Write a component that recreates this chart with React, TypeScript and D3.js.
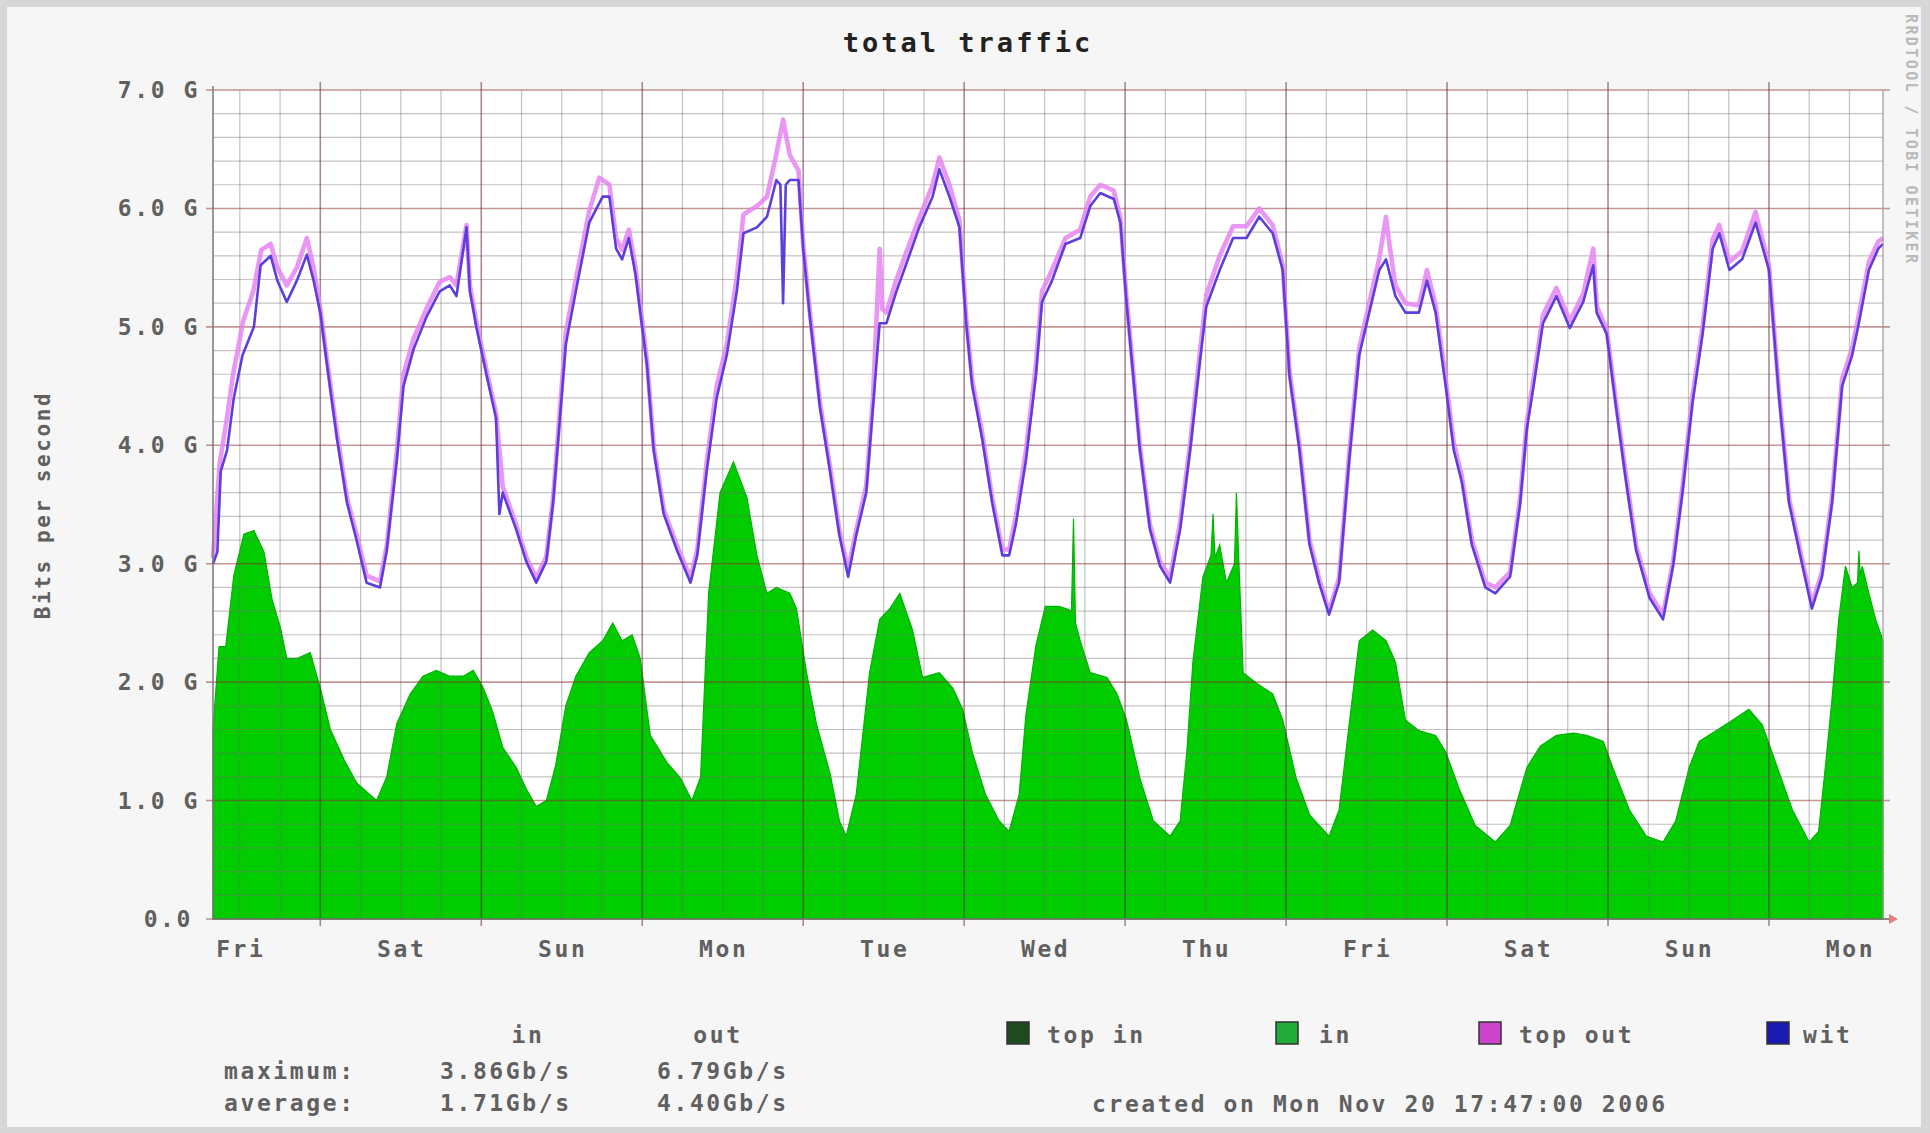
import React, { useEffect, useRef } from "react";
import * as d3 from "d3";

const WIDTH = 1930;
const HEIGHT = 1133;

// hours since Fri Nov 10 2006 08:00 -> Gb/s
const inTraffic: [number, number][] = [
  [0, 1.6], [0.9, 2.3], [1.9, 2.3], [3.1, 2.9], [4.6, 3.25], [6.1, 3.28], [7.6, 3.1], [8.8, 2.7],
  [10.1, 2.45], [11.0, 2.2], [12.5, 2.2], [14.5, 2.25], [16.0, 1.95], [17.5, 1.6], [19.5, 1.35],
  [21.4, 1.15], [23.4, 1.05], [24.4, 1.0], [25.9, 1.2], [27.4, 1.65], [29.4, 1.9], [31.3, 2.05],
  [33.3, 2.1], [35.3, 2.05], [37.3, 2.05], [38.8, 2.1], [40.3, 1.95], [41.7, 1.75], [43.2, 1.45],
  [45.2, 1.28], [46.7, 1.1], [48.2, 0.95], [49.7, 1.0], [51.1, 1.3], [52.6, 1.8], [54.1, 2.05],
  [56.1, 2.25], [58.1, 2.35], [59.6, 2.5], [61.0, 2.35], [62.5, 2.4], [63.7, 2.2], [65.2, 1.55],
  [67.7, 1.32], [69.7, 1.19], [71.4, 1.0], [72.7, 1.2], [73.9, 2.75], [75.6, 3.6], [77.6, 3.86],
  [79.6, 3.56], [81.1, 3.07], [82.6, 2.75], [84.0, 2.8], [86.0, 2.75], [87.0, 2.62], [88.5, 2.08],
  [90.0, 1.64], [92.0, 1.23], [93.4, 0.83], [94.4, 0.7], [95.9, 1.05], [97.9, 2.08], [99.4, 2.53],
  [100.9, 2.62], [102.4, 2.75], [104.3, 2.44], [105.8, 2.04], [108.3, 2.08], [110.3, 1.95],
  [111.8, 1.77], [113.2, 1.41], [115.2, 1.05], [117.2, 0.83], [118.7, 0.74], [120.2, 1.05],
  [121.2, 1.72], [122.7, 2.31], [124.1, 2.64], [126.1, 2.64], [127.3, 2.62], [128.0, 2.6],
  [128.3, 3.38], [128.6, 2.5], [129.3, 2.35], [130.8, 2.08], [133.3, 2.04], [134.8, 1.9],
  [136.2, 1.68], [138.2, 1.19], [140.2, 0.83], [142.7, 0.7], [144.2, 0.83], [145.2, 1.41],
  [146.1, 2.17], [147.6, 2.89], [148.8, 3.07], [149.1, 3.42], [149.4, 3.05], [150.1, 3.16],
  [151.1, 2.84], [152.3, 3.0], [152.6, 3.6], [152.9, 3.1], [153.6, 2.08], [155.6, 1.99],
  [158.0, 1.9], [159.5, 1.68], [161.5, 1.19], [163.5, 0.88], [166.4, 0.7], [167.9, 0.92],
  [169.4, 1.64], [170.9, 2.35], [172.9, 2.44], [174.9, 2.35], [176.3, 2.17], [177.8, 1.68],
  [179.8, 1.59], [182.3, 1.55], [183.8, 1.41], [185.8, 1.1], [188.2, 0.79], [191.2, 0.65],
  [193.4, 0.79], [195.9, 1.28], [197.9, 1.46], [200.3, 1.55], [202.8, 1.57], [204.8, 1.55],
  [207.3, 1.5], [208.7, 1.28], [211.2, 0.92], [213.7, 0.7], [216.2, 0.65], [218.1, 0.83],
  [220.1, 1.28], [221.6, 1.5], [224.1, 1.59], [226.6, 1.68], [229.0, 1.77], [231.0, 1.64],
  [233.0, 1.32], [235.5, 0.92], [238.0, 0.65], [239.4, 0.74], [240.4, 1.28], [241.4, 1.86],
  [242.4, 2.53], [243.4, 2.98], [244.4, 2.8], [245.2, 2.84], [245.4, 3.11], [245.6, 2.9],
  [245.9, 2.98], [246.9, 2.75], [247.9, 2.53], [249, 2.35],
];

const topOut: [number, number][] = [
  [0, 3.05], [1.0, 3.85], [2.0, 4.2], [3.0, 4.6], [4.5, 5.05], [6.0, 5.3], [7.2, 5.65], [8.6, 5.7],
  [9.6, 5.5], [11.0, 5.35], [12.5, 5.5], [14.0, 5.75], [15.0, 5.5], [16.0, 5.15], [17.0, 4.72],
  [18.5, 4.1], [20.0, 3.55], [21.4, 3.25], [22.9, 2.9], [24.9, 2.85], [25.9, 3.15], [27.4, 3.95],
  [28.4, 4.6], [29.9, 4.9], [31.8, 5.15], [33.8, 5.38], [35.3, 5.42], [36.3, 5.35], [37.8, 5.86],
  [38.3, 5.35], [39.3, 5.03], [40.8, 4.63], [42.2, 4.27], [43.2, 3.65], [45.2, 3.33], [46.7, 3.06],
  [48.2, 2.88], [49.7, 3.06], [50.7, 3.55], [51.6, 4.2], [52.6, 4.95], [54.1, 5.4], [56.1, 5.98],
  [57.6, 6.26], [59.1, 6.2], [60.1, 5.75], [61.0, 5.65], [62.0, 5.82], [63.0, 5.5], [64.7, 4.72],
  [65.7, 4.0], [67.2, 3.46], [69.2, 3.15], [71.2, 2.88], [72.2, 3.12], [73.6, 3.85], [75.1, 4.5],
  [76.6, 4.85], [78.1, 5.42], [79.1, 5.95], [81.1, 6.02], [82.6, 6.1], [84.0, 6.46], [85.0, 6.75],
  [86.0, 6.45], [87.3, 6.32], [88.0, 5.7], [89.0, 5.12], [90.5, 4.36], [92.0, 3.82], [93.4, 3.28],
  [94.7, 2.95], [95.9, 3.28], [97.4, 3.66], [98.4, 4.4], [99.4, 5.66], [99.8, 5.15], [100.4, 5.12],
  [101.9, 5.4], [103.3, 5.62], [105.3, 5.92], [107.3, 6.2], [108.3, 6.43], [109.8, 6.2],
  [111.3, 5.9], [112.3, 5.08], [113.2, 4.55], [114.7, 4.1], [116.2, 3.55], [117.7, 3.12],
  [118.7, 3.12], [119.7, 3.4], [121.2, 3.95], [122.7, 4.68], [123.6, 5.3], [125.1, 5.48],
  [127.1, 5.75], [129.3, 5.82], [130.8, 6.1], [132.3, 6.2], [134.3, 6.15], [135.3, 5.92],
  [136.2, 5.25], [137.2, 4.63], [138.2, 4.0], [139.7, 3.33], [141.2, 3.02], [142.7, 2.88],
  [144.2, 3.35], [145.7, 4.02], [147.1, 4.76], [148.1, 5.27], [150.1, 5.6], [152.1, 5.85],
  [154.1, 5.85], [156.0, 6.0], [158.0, 5.86], [159.5, 5.52], [160.5, 4.63], [162.0, 4.0],
  [163.5, 3.2], [164.9, 2.88], [166.4, 2.6], [167.9, 2.88], [169.4, 3.92], [170.9, 4.82],
  [172.4, 5.2], [173.9, 5.58], [174.9, 5.93], [175.4, 5.7], [176.3, 5.35], [177.8, 5.2],
  [179.8, 5.18], [181.0, 5.48], [182.3, 5.18], [183.8, 4.56], [185.0, 4.02], [186.2, 3.74],
  [187.7, 3.2], [189.7, 2.84], [191.2, 2.8], [193.4, 2.93], [194.9, 3.56], [195.9, 4.2],
  [196.9, 4.56], [198.3, 5.1], [200.3, 5.33], [202.3, 5.05], [204.3, 5.28], [205.8, 5.66],
  [206.3, 5.18], [207.8, 4.98], [209.2, 4.36], [210.7, 3.74], [212.2, 3.15], [214.2, 2.75],
  [216.2, 2.57], [217.7, 3.02], [219.1, 3.65], [220.6, 4.42], [222.1, 5.0], [223.6, 5.74],
  [224.6, 5.86], [226.1, 5.55], [228.0, 5.64], [230.0, 5.97], [232.0, 5.52], [233.5, 4.45],
  [235.0, 3.55], [237.0, 3.02], [238.4, 2.66], [239.9, 2.93], [241.4, 3.56], [242.9, 4.56],
  [244.4, 4.82], [245.4, 5.1], [246.9, 5.55], [248.3, 5.72], [249, 5.75],
];

const witOut: [number, number][] = [
  [0, 3.0], [0.65, 3.1], [1.15, 3.78], [2.1, 3.96], [3.1, 4.4], [4.4, 4.76], [6.1, 5.0], [7.1, 5.52],
  [8.6, 5.6], [9.6, 5.39], [11.0, 5.21], [12.5, 5.39], [14.0, 5.61], [15.0, 5.39], [16.0, 5.12],
  [17.0, 4.68], [18.5, 4.05], [20.0, 3.51], [21.4, 3.2], [22.9, 2.84], [24.9, 2.8], [25.9, 3.11],
  [27.4, 3.87], [28.4, 4.5], [29.9, 4.81], [31.8, 5.08], [33.8, 5.3], [35.3, 5.35], [36.3, 5.26],
  [37.8, 5.84], [38.3, 5.3], [39.3, 4.99], [40.8, 4.59], [42.2, 4.23], [42.7, 3.42], [43.2, 3.6],
  [45.2, 3.29], [46.7, 3.02], [48.2, 2.84], [49.7, 3.02], [50.7, 3.51], [51.6, 4.14], [52.6, 4.85],
  [54.1, 5.3], [56.1, 5.88], [58.1, 6.1], [59.1, 6.1], [60.1, 5.66], [61.0, 5.57], [62.0, 5.75],
  [63.0, 5.44], [64.7, 4.68], [65.7, 3.96], [67.2, 3.42], [69.2, 3.11], [71.2, 2.84], [72.2, 3.07],
  [73.6, 3.78], [75.1, 4.4], [76.6, 4.76], [78.1, 5.3], [79.1, 5.79], [81.1, 5.84], [82.6, 5.93],
  [84.0, 6.24], [84.6, 6.2], [85.0, 5.2], [85.4, 6.2], [86.0, 6.24], [87.3, 6.24], [88.0, 5.66],
  [89.0, 5.08], [90.5, 4.32], [92.0, 3.78], [93.4, 3.24], [94.7, 2.89], [95.9, 3.24], [97.4, 3.6],
  [98.4, 4.32], [99.4, 5.03], [100.4, 5.03], [101.9, 5.3], [103.3, 5.52], [105.3, 5.84],
  [107.3, 6.1], [108.3, 6.33], [109.8, 6.1], [111.3, 5.84], [112.3, 5.03], [113.2, 4.5],
  [114.7, 4.05], [116.2, 3.51], [117.7, 3.07], [118.7, 3.07], [119.7, 3.33], [121.2, 3.87],
  [122.7, 4.59], [123.6, 5.21], [125.1, 5.39], [127.1, 5.7], [129.3, 5.75], [130.8, 6.02],
  [132.3, 6.13], [134.3, 6.08], [135.3, 5.88], [136.2, 5.21], [137.2, 4.59], [138.2, 3.96],
  [139.7, 3.29], [141.2, 2.98], [142.7, 2.84], [144.2, 3.29], [145.7, 3.96], [147.1, 4.68],
  [148.1, 5.17], [150.1, 5.48], [152.1, 5.75], [154.1, 5.75], [156.0, 5.93], [158.0, 5.79],
  [159.5, 5.48], [160.5, 4.59], [162.0, 3.96], [163.5, 3.16], [164.9, 2.84], [166.4, 2.57],
  [167.9, 2.84], [169.4, 3.87], [170.9, 4.76], [172.4, 5.12], [173.9, 5.48], [174.9, 5.57],
  [176.3, 5.26], [177.8, 5.12], [179.8, 5.12], [181.0, 5.39], [182.3, 5.12], [183.8, 4.5],
  [185.0, 3.96], [186.2, 3.69], [187.7, 3.16], [189.7, 2.8], [191.2, 2.75], [193.4, 2.89],
  [194.9, 3.51], [195.9, 4.14], [196.9, 4.5], [198.3, 5.03], [200.3, 5.26], [202.3, 4.99],
  [204.3, 5.21], [205.8, 5.52], [206.3, 5.12], [207.8, 4.94], [209.2, 4.32], [210.7, 3.69],
  [212.2, 3.11], [214.2, 2.71], [216.2, 2.53], [217.7, 2.98], [219.1, 3.6], [220.6, 4.36],
  [222.1, 4.94], [223.6, 5.66], [224.6, 5.79], [226.1, 5.48], [228.0, 5.57], [230.0, 5.88],
  [232.0, 5.48], [233.5, 4.41], [235.0, 3.51], [237.0, 2.98], [238.4, 2.62], [239.9, 2.89],
  [241.4, 3.51], [242.9, 4.5], [244.4, 4.76], [245.4, 5.03], [246.9, 5.48], [248.3, 5.66],
  [249, 5.7],
];

const dayLabels = ["Fri", "Sat", "Sun", "Mon", "Tue", "Wed", "Thu", "Fri", "Sat", "Sun", "Mon"];
const yTickLabels = ["0.0", "1.0 G", "2.0 G", "3.0 G", "4.0 G", "5.0 G", "6.0 G", "7.0 G"];
const legendLabels = ["top in", "in", "top out", "wit"];
const statHeader = ["in", "out"];
const statRows = [
  ["maximum:", "3.86Gb/s", "6.79Gb/s"],
  ["average:", "1.71Gb/s", "4.40Gb/s"],
];

const legendColors = ["#1f4a1f", "#1faa3a", "#cc44cc", "#1a1ab0"];
const FONT = "'DejaVu Sans Mono', 'Liberation Mono', monospace";

const TrafficGraph = () => {
  const ref = useRef<SVGSVGElement>(null);

  useEffect(() => {
    const svg = d3.select(ref.current);
    svg.selectAll("*").remove();

    const start = new Date(2006, 10, 10, 8, 0);
    const end = new Date(2006, 10, 20, 17, 0);
    const toDate = (h: number) => new Date(start.getTime() + h * 3600000);

    const left = 213, right = 1883, top = 90, bottom = 919;
    const x = d3.scaleTime().domain([start, end]).range([left, right]);
    const y = d3.scaleLinear().domain([0, 7]).range([bottom, top]);

    // frame
    svg.append("rect").attr("width", WIDTH).attr("height", HEIGHT).attr("fill", "#d7d7d7");
    svg.append("rect").attr("x", 7).attr("y", 7).attr("width", WIDTH - 16).attr("height", HEIGHT - 13).attr("fill", "#f6f6f6");
    svg.append("rect").attr("x", left).attr("y", top).attr("width", right - left).attr("height", bottom - top).attr("fill", "#ffffff");

    // in area
    const area = d3.area<[number, number]>()
      .x((d) => x(toDate(d[0])))
      .y0(y(0))
      .y1((d) => y(d[1]));
    svg.append("path").datum(inTraffic).attr("d", area).attr("fill", "#00cc00")
      .attr("stroke", "#00b400").attr("stroke-width", 1.2);

    // grid on top of the area, like rrdtool
    const grid = svg.append("g");
    const minorX = d3.timeHour.every(6)!.range(start, end).filter((d) => d.getHours() !== 0);
    const majorX = d3.timeDay.range(start, end);
    const minorY = d3.range(1, 35).map((i) => i * 0.2).filter((v) => Math.abs(v - Math.round(v)) > 0.01);
    const majorY = d3.range(0, 8);

    grid.selectAll(".mx").data(minorX).enter().append("line")
      .attr("x1", (d) => x(d)).attr("x2", (d) => x(d)).attr("y1", top).attr("y2", bottom)
      .attr("stroke", "rgba(110,110,110,0.42)").attr("stroke-width", 1.2);
    grid.selectAll(".my").data(minorY).enter().append("line")
      .attr("x1", left).attr("x2", right).attr("y1", (d) => y(d)).attr("y2", (d) => y(d))
      .attr("stroke", "rgba(120,110,110,0.42)").attr("stroke-width", 1.2);
    grid.selectAll(".Mx").data(majorX).enter().append("line")
      .attr("x1", (d) => x(d)).attr("x2", (d) => x(d)).attr("y1", top - 8).attr("y2", bottom + 7)
      .attr("stroke", "rgba(95,45,55,0.55)").attr("stroke-width", 1.6);
    grid.selectAll(".My").data(majorY).enter().append("line")
      .attr("x1", left - 7).attr("x2", right + 7).attr("y1", (d) => y(d)).attr("y2", (d) => y(d))
      .attr("stroke", "rgba(140,45,45,0.5)").attr("stroke-width", 1.6);

    // out lines
    const line = d3.line<[number, number]>()
      .x((d) => x(toDate(d[0])))
      .y((d) => y(d[1]));
    svg.append("path").datum(topOut).attr("d", line).attr("fill", "none")
      .attr("stroke", "#e684f2").attr("stroke-width", 4.6).attr("stroke-opacity", 0.85)
      .attr("stroke-linejoin", "round");
    svg.append("path").datum(witOut).attr("d", line).attr("fill", "none")
      .attr("stroke", "#5c3edc").attr("stroke-width", 2.6).attr("stroke-linejoin", "round");

    // axes
    svg.append("line").attr("x1", left).attr("x2", left).attr("y1", top - 4).attr("y2", bottom)
      .attr("stroke", "#777").attr("stroke-width", 1.5);
    svg.append("line").attr("x1", left).attr("x2", right + 6).attr("y1", bottom).attr("y2", bottom)
      .attr("stroke", "#777").attr("stroke-width", 1.5);
    svg.append("line").attr("x1", right).attr("x2", right).attr("y1", top).attr("y2", bottom)
      .attr("stroke", "#999").attr("stroke-width", 1.2);
    svg.append("path")
      .attr("d", `M${right + 6},${bottom - 5} L${right + 15},${bottom} L${right + 6},${bottom + 5} Z`)
      .attr("fill", "#e08080");

    const textStyle = (sel: any, size = 23) =>
      sel.attr("font-family", FONT).attr("font-size", size).attr("font-weight", "bold")
        .attr("fill", "#606060").attr("letter-spacing", 2.6);

    // y labels
    svg.selectAll(".yl").data(yTickLabels).enter().append("text")
      .call(textStyle)
      .attr("x", (d, i) => (i === 0 ? 193 : 200))
      .attr("y", (d, i) => y(i) + 8)
      .attr("text-anchor", "end")
      .text((d) => d);

    // x labels at noon
    svg.selectAll(".xl").data(dayLabels).enter().append("text")
      .call(textStyle)
      .attr("x", (d, i) => x(d3.timeHour.offset(d3.timeDay.offset(d3.timeDay.floor(start), i), 12)) + 1)
      .attr("y", 957)
      .attr("text-anchor", "middle")
      .text((d) => d);

    // title
    svg.append("text").call(textStyle, 27).attr("fill", "#222").attr("letter-spacing", 3)
      .attr("x", 968).attr("y", 52).attr("text-anchor", "middle").text("total traffic");

    // y title
    svg.append("text").call(textStyle, 21)
      .attr("transform", "translate(50,505) rotate(-90)")
      .attr("text-anchor", "middle").text("Bits per second");

    // watermark
    svg.append("text").attr("font-family", FONT).attr("font-size", 15).attr("fill", "#b9b9b9")
      .attr("letter-spacing", 2.4).attr("font-weight", "bold")
      .attr("transform", "translate(1906,14) rotate(90)").text("RRDTOOL / TOBI OETIKER");

    // stats
    svg.selectAll(".sh").data(statHeader).enter().append("text")
      .call(textStyle)
      .attr("x", (d, i) => [528, 718][i]).attr("y", 1043)
      .attr("text-anchor", "middle").text((d) => d);
    statRows.forEach((row, r) => {
      const yy = [1079, 1111][r];
      svg.append("text").call(textStyle).attr("x", 224).attr("y", yy).text(row[0]);
      svg.append("text").call(textStyle).attr("x", 440).attr("y", yy).text(row[1]);
      svg.append("text").call(textStyle).attr("x", 657).attr("y", yy).text(row[2]);
    });

    // legend
    const swatchX = [1007, 1276, 1479, 1767];
    const labelX = [1047, 1319, 1519, 1803];
    legendLabels.forEach((label, i) => {
      svg.append("rect").attr("x", swatchX[i]).attr("y", 1022).attr("width", 22).attr("height", 22)
        .attr("fill", legendColors[i]).attr("stroke", "#333").attr("stroke-width", 1.5);
      svg.append("text").call(textStyle).attr("x", labelX[i]).attr("y", 1043).text(label);
    });

    svg.append("text").call(textStyle).attr("x", 1092).attr("y", 1112)
      .text("created on Mon Nov 20 17:47:00 2006");
  }, []);

  return (
    <svg
      ref={ref}
      width={WIDTH}
      height={HEIGHT}
      style={{ position: "absolute", left: 0, top: 0, display: "block" }}
    />
  );
};

export default function App() {
  return <TrafficGraph />;
}
